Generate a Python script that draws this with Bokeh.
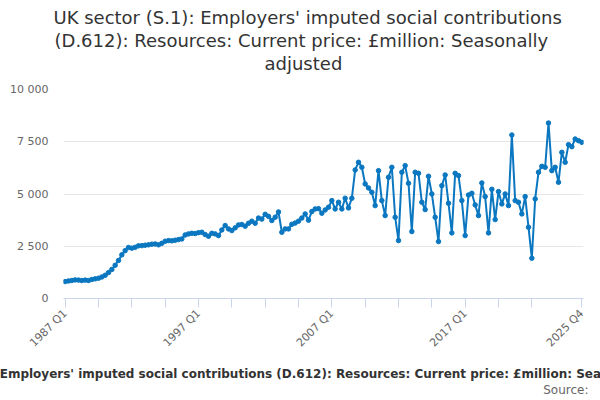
import math
from bokeh.plotting import figure
from bokeh.models import FixedTicker, Range1d, Title, ColumnDataSource
from bokeh.embed import file_html
from bokeh.resources import INLINE

# ---- data -------------------------------------------------------------
first_year = 1987
values = [
    810, 840, 860, 890, 880, 860, 880, 860, 910, 940,
    970, 1030, 1110, 1240, 1390, 1590, 1820, 2090, 2290, 2440,
    2410, 2450, 2520, 2530, 2550, 2570, 2600, 2610, 2570, 2640,
    2740, 2770, 2760, 2790, 2820, 2850, 3040, 3090, 3120, 3110,
    3150, 3170, 3060, 2980, 3120, 3090, 3010, 3280, 3490, 3330,
    3250, 3380, 3520, 3540, 3460, 3600, 3700, 3600, 3850, 3800,
    4030, 3930, 3730, 3890, 4140, 3170, 3330, 3330, 3550, 3610,
    3700, 3850, 4046, 3750, 4160, 4285, 4300, 4080, 4238, 4366,
    4684, 4285, 4605, 4285, 4796, 4334, 4796, 6150, 6517, 6278,
    5481, 5290, 5083, 4445, 6118, 4684, 3967, 5800, 6278, 3890,
    2772, 6040, 6357, 5513, 3203, 6040, 5990, 4605, 4254, 5848,
    5003, 3888, 2725, 5400, 5911, 4557, 3139, 5991, 5880, 4684,
    3011, 4955, 5035, 4477, 3967, 5529, 4876, 3139, 5226, 3776,
    5115, 4525, 5003, 4445, 7823, 4684, 4605, 4047, 4876, 3410,
    1928, 4764, 6040, 6326, 6278, 8397, 6118, 6278, 5561, 6995,
    6517, 7361, 7266, 7632, 7552, 7473,
]
quarters = ["%d Q%d" % (first_year + k // 4, k % 4 + 1) for k in range(len(values))]
x_idx = list(range(len(values)))

x_tick_positions = list(range(0, 150, 10)) + [len(values) - 1]
x_labelled = ["1987 Q1", "1997 Q1", "2007 Q1", "2017 Q1", "2025 Q4"]
y_ticks = [0, 2500, 5000, 7500, 10000]
y_tick_labels = ["0", "2 500", "5 000", "7 500", "10 000"]

title_lines = [
    "UK sector (S.1): Employers' imputed social contributions",
    "(D.612): Resources: Current price: £million: Seasonally",
    "adjusted",
]
x_axis_title = ("UK sector (S.1): Employers' imputed social contributions (D.612): "
                "Resources: Current price: £million: Seasonally adjusted")
source_text = "Source:"

# ---- figure -----------------------------------------------------------
FONT = "DejaVu Sans"
LINE = "#0a77c0"
FRAME_LEFT = 63

p = figure(width=600, height=400, output_backend="svg", toolbar_location=None,
           x_range=Range1d(-0.5, len(values) - 0.5), y_range=Range1d(0, 10000),
           min_border_left=FRAME_LEFT, min_border_right=17, min_border_top=89,
           min_border_bottom=102)
p.title.text = ""
p.outline_line_color = None
p.background_fill_color = "white"
p.border_fill_color = "white"

src = ColumnDataSource(dict(x=x_idx, y=values, q=quarters))
p.line("x", "y", source=src, line_color=LINE, line_width=2)
p.scatter("x", "y", source=src, size=4.5, fill_color=LINE, line_color=LINE)

# x axis
xa = p.xaxis[0]
xa.ticker = FixedTicker(ticks=x_tick_positions)
overrides = {}
for t in x_tick_positions:
    lab = quarters[t]
    overrides[t] = lab if lab in x_labelled else ""
xa.major_label_overrides = overrides
xa.major_label_orientation = math.pi / 4
xa.major_label_text_font = FONT
xa.major_label_text_font_size = "11px"
xa.major_label_text_color = "#666666"
xa.major_label_standoff = 4
xa.axis_line_color = "#ccd6eb"
xa.major_tick_line_color = "#ccd6eb"
xa.major_tick_out = 9
xa.major_tick_in = 0
xa.minor_tick_line_color = None

# y axis
ya = p.yaxis[0]
ya.ticker = FixedTicker(ticks=y_ticks)
ya.major_label_overrides = {t: s for t, s in zip(y_ticks, y_tick_labels)}
ya.major_label_text_font = FONT
ya.major_label_text_font_size = "11px"
ya.major_label_text_color = "#666666"
ya.major_label_standoff = 15
ya.major_tick_out = 0
ya.major_tick_in = 0
ya.axis_line_color = None
ya.major_tick_line_color = None
ya.minor_tick_line_color = None

p.xgrid.grid_line_color = None
p.ygrid.grid_line_color = "#e6e6e6"
p.ygrid.ticker = FixedTicker(ticks=y_ticks)

ZWSP = "\u200b"


def gap(font_px, standoff):
    # zero-width (invisible) title used only to reserve vertical space
    return Title(text=ZWSP, text_font=FONT, text_font_size="%dpx" % font_px,
                 standoff=standoff, text_color="#ffffff")


# title (stacked above the frame; first added is nearest the frame)
p.add_layout(gap(12, 0), "above")
for line, left in reversed(list(zip(title_lines, [53, 54, 264]))):
    p.add_layout(Title(text=line, align="left", offset=left - FRAME_LEFT,
                       vertical_align="bottom", standoff=0,
                       text_font=FONT, text_font_size="18px",
                       text_font_style="normal", text_color="#333333"), "above")

# below: gap, long axis title, source
p.add_layout(gap(6, 0), "below")
p.add_layout(Title(text=x_axis_title, align="left", offset=-112 - FRAME_LEFT,
                   vertical_align="top", standoff=0,
                   text_font=FONT, text_font_size="12px", text_font_style="bold",
                   text_color="#333333"), "below")
p.add_layout(Title(text=source_text, align="right", offset=600 - 17 - 588,
                   vertical_align="top", standoff=1,
                   text_font=FONT, text_font_size="12px", text_font_style="normal",
                   text_color="#666666"), "below")

open("out.html", "w").write(file_html(p, INLINE))
